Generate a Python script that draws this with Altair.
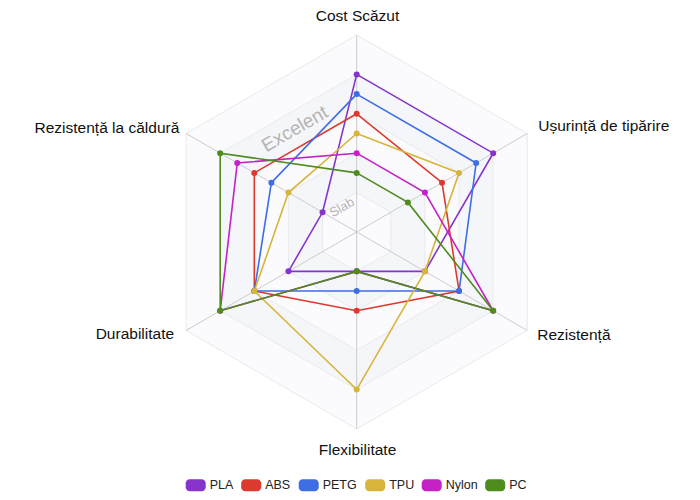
import math
import altair as alt
import pandas as pd

# ---------------- data ----------------
axis_labels = ["Cost Scăzut", "Ușurință de tipărire", "Rezistență",
               "Flexibilitate", "Durabilitate", "Rezistență la căldură"]
materials = ["PLA", "ABS", "PETG", "TPU", "Nylon", "PC"]
pla_values = [8, 8, 4, 2, 4, 2]
abs_values = [6, 5, 6, 4, 6, 6]
petg_values = [7, 7, 6, 3, 6, 5]
tpu_values = [5, 6, 4, 8, 6, 4]
nylon_values = [4, 4, 8, 2, 8, 7]
pc_values = [3, 3, 8, 2, 8, 8]
material_colors = ["#8634cc", "#dc3a2f", "#3d6ee4", "#d8b43a", "#c422c4", "#4e8c1e"]
grid_levels = [2, 4, 6, 8, 10]
scale_labels = ["Slab", "Excelent"]
scale_label_levels = [1.45, 6.1]

series_values = [pla_values, abs_values, petg_values, tpu_values, nylon_values, pc_values]
MAX_VAL = 10
FONT = "Liberation Sans"


def angle(i):
    return math.radians(90 - 60 * i)


def polar(v, i):
    a = angle(i)
    return v * math.cos(a), v * math.sin(a)


X = alt.X("x:Q", scale=alt.Scale(domain=[-17.70, 17.02], nice=False, zero=False), axis=None)
Y = alt.Y("y:Q", scale=alt.Scale(domain=[-13.20, 11.37], nice=False, zero=False), axis=None)
color_scale = alt.Scale(domain=materials, range=material_colors)

layers = []

# grid bands (outer first)
band_fills = {10: "#fbfbfd", 8: "#f4f6fa", 6: "#fbfbfd", 4: "#f4f6fa", 2: "#fbfbfd"}
for lvl in sorted(grid_levels, reverse=True):
    rows = []
    for k in range(7):
        x, y = polar(lvl, k % 6)
        rows.append({"x": x, "y": y, "o": k})
    layers.append(
        alt.Chart(pd.DataFrame(rows)).mark_line(
            fill=band_fills[lvl], stroke="#e9eaee", strokeWidth=1
        ).encode(x=X, y=Y, order="o:Q")
    )

# spokes
spoke_rows = []
for i in range(6):
    x, y = polar(MAX_VAL, i)
    spoke_rows.append({"x": 0.0, "y": 0.0, "x2": x, "y2": y})
layers.append(
    alt.Chart(pd.DataFrame(spoke_rows)).mark_rule(color="#cccccc", strokeWidth=1).encode(
        x=X, y=Y, x2="x2:Q", y2="y2:Q"
    )
)

# scale annotations
for lab, lvl, fs in zip(scale_labels, scale_label_levels, [13, 19]):
    a = math.radians(121)
    df = pd.DataFrame([{"x": lvl * math.cos(a), "y": lvl * math.sin(a), "t": lab}])
    layers.append(
        alt.Chart(df).mark_text(
            angle=330, align="center", baseline="middle", font=FONT,
            fontSize=fs, color="#b4b4b4"
        ).encode(x=X, y=Y, text="t:N")
    )

legend = alt.Legend(
    title=None, orient="none", legendX=177.7, legendY=467,
    direction="horizontal",
    symbolType="M-0.6,-0.6H0.6A0.4,0.4 0 0 1 1,-0.2V0.2A0.4,0.4 0 0 1 0.6,0.6H-0.6A0.4,0.4 0 0 1 -1,0.2V-0.2A0.4,0.4 0 0 1 -0.6,-0.6Z",
    symbolSize=400, symbolStrokeWidth=0, symbolOpacity=1,
    labelFont=FONT, labelFontSize=12.5, labelColor="#222222",
    labelOffset=4, columnPadding=7.5, padding=0,
)

# series
for name, col, vals in zip(materials, material_colors, series_values):
    rows = []
    for k in range(7):
        i = k % 6
        x, y = polar(vals[i], i)
        rows.append({"x": x, "y": y, "o": k, "material": name, "value": vals[i]})
    df = pd.DataFrame(rows)
    layers.append(
        alt.Chart(df).mark_line(strokeWidth=1.6, color=col).encode(
            x=X, y=Y, order="o:Q",
        )
    )
    layers.append(
        alt.Chart(df[df["o"] < 6]).mark_circle(size=36, opacity=1).encode(
            x=X, y=Y,
            color=alt.Color("material:N", scale=color_scale, legend=legend),
        )
    )

# axis name labels: (align, dx, dy)
label_style = [
    ("center", 0.8, -14),
    ("left", 11, -2.8),
    ("left", 10, 9.5),
    ("center", 0.8, 26),
    ("right", -12, 8.8),
    ("right", -6.8, -0.8),
]
for i, lab in enumerate(axis_labels):
    x, y = polar(MAX_VAL, i)
    al, dx, dy = label_style[i]
    layers.append(
        alt.Chart(pd.DataFrame([{"x": x, "y": y, "t": lab}])).mark_text(
            align=al, baseline="alphabetic", dx=dx, dy=dy, font=FONT,
            fontSize=15.5, color="#111111"
        ).encode(x=X, y=Y, text="t:N")
    )

chart = alt.layer(*layers).properties(
    width=684, height=484,
    autosize=alt.AutoSizeParams(type="none"),
    padding=0,
).configure_view(stroke=None)

chart.save("out.html", embed_options={"renderer": "svg", "actions": False})
